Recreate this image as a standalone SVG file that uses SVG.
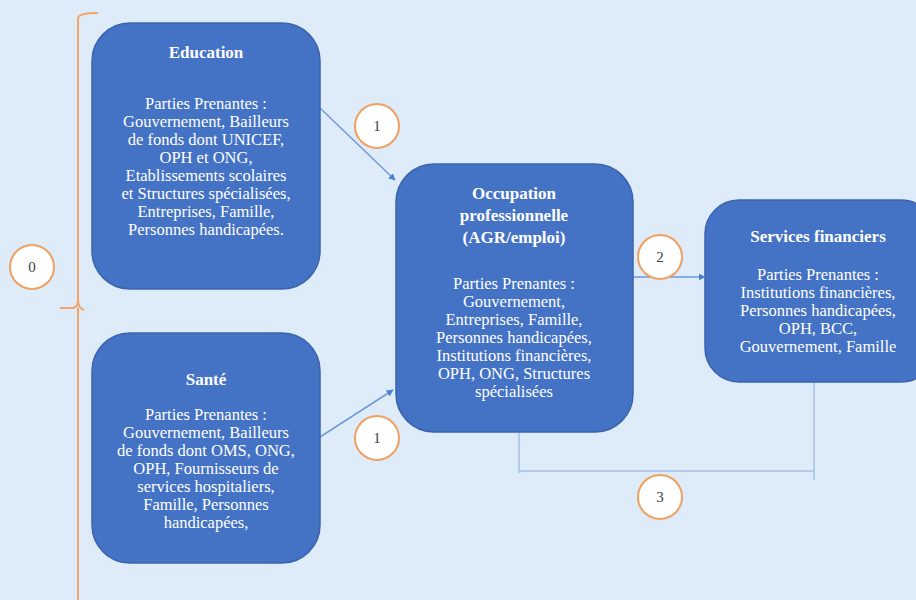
<svg xmlns="http://www.w3.org/2000/svg" width="916" height="600" viewBox="0 0 916 600">
<defs>
<marker id="ah" viewBox="0 0 10 10" refX="9" refY="5" markerWidth="7" markerHeight="7" orient="auto" markerUnits="userSpaceOnUse">
<path d="M0,0 L10,5 L0,10 z" fill="#4a7fd0"/>
</marker>
<style>
.box{fill:#4472c4;stroke:#3b64ad;stroke-width:1.5}
.t{font-family:"Liberation Serif","Times New Roman",serif;fill:#ffffff;text-anchor:middle;font-size:16.5px}
.tb{font-weight:bold;font-size:17px}
.c{fill:#ffffff;stroke:#f0a060;stroke-width:2}
.ct{font-family:"Liberation Serif","Times New Roman",serif;fill:#404040;text-anchor:middle;font-size:15px}
.arr{stroke:#6f9ad8;stroke-width:1.5;fill:none}
.ln{stroke:#b3cbea;stroke-width:2;fill:none}
.br{stroke:#f2a46a;stroke-width:2;fill:none}
</style>
</defs>
<rect width="916" height="600" fill="#deebf8"/>
<g id="connectors">
<line class="arr" x1="320" y1="108" x2="395" y2="180" marker-end="url(#ah)"/>
<line class="arr" x1="320" y1="437" x2="393" y2="390" marker-end="url(#ah)"/>
<line class="arr" x1="633" y1="277" x2="705" y2="277" marker-end="url(#ah)"/>
<polyline class="ln" points="519,432 519,473"/>
<polyline class="ln" points="519,471 814,471"/>
<polyline class="ln" points="814,382 814,480"/>
</g>
<g id="brace">
<path class="br" d="M98,13 Q79,13 78,18 L78,300 Q78,308 72,308 L60,308 M78,300 Q78,308 84,310 M78,308 L78,600"/>
</g>
<g id="education">
<rect class="box" x="92" y="23" width="228" height="266" rx="38"/>
<text class="t tb" x="206" y="58">Education</text>
<text class="t" x="206" y="109">Parties Prenantes :</text>
<text class="t" x="206" y="127">Gouvernement, Bailleurs</text>
<text class="t" x="206" y="145">de fonds dont UNICEF,</text>
<text class="t" x="206" y="163">OPH et ONG,</text>
<text class="t" x="206" y="181">Etablissements scolaires</text>
<text class="t" x="206" y="199">et Structures spécialisées,</text>
<text class="t" x="206" y="217">Entreprises, Famille,</text>
<text class="t" x="206" y="235">Personnes handicapées.</text>
</g>
<g id="sante">
<rect class="box" x="92" y="333" width="228" height="230" rx="38"/>
<text class="t tb" x="206" y="385">Santé</text>
<text class="t" x="206" y="420">Parties Prenantes :</text>
<text class="t" x="206" y="438">Gouvernement, Bailleurs</text>
<text class="t" x="206" y="456">de fonds dont OMS, ONG,</text>
<text class="t" x="206" y="474">OPH, Fournisseurs de</text>
<text class="t" x="206" y="492">services hospitaliers,</text>
<text class="t" x="206" y="510">Famille, Personnes</text>
<text class="t" x="206" y="528">handicapées,</text>
</g>
<g id="occupation">
<rect class="box" x="396" y="164" width="237" height="268" rx="38"/>
<text class="t tb" x="514" y="199">Occupation</text>
<text class="t tb" x="514" y="221">professionnelle</text>
<text class="t tb" x="514" y="243">(AGR/emploi)</text>
<text class="t" x="514" y="289">Parties Prenantes :</text>
<text class="t" x="514" y="307">Gouvernement,</text>
<text class="t" x="514" y="325">Entreprises, Famille,</text>
<text class="t" x="514" y="343">Personnes handicapées,</text>
<text class="t" x="514" y="361">Institutions financières,</text>
<text class="t" x="514" y="379">OPH, ONG, Structures</text>
<text class="t" x="514" y="397">spécialisées</text>
</g>
<g id="services">
<rect class="box" x="705" y="200" width="230" height="182" rx="34"/>
<text class="t tb" x="818" y="242">Services financiers</text>
<text class="t" x="818" y="280">Parties Prenantes :</text>
<text class="t" x="818" y="298">Institutions financières,</text>
<text class="t" x="818" y="316">Personnes handicapées,</text>
<text class="t" x="818" y="334">OPH, BCC,</text>
<text class="t" x="818" y="352">Gouvernement, Famille</text>
</g>
<g id="label0"><circle class="c" cx="32" cy="267" r="22"/><text class="ct" x="32" y="272">0</text></g>
<g id="label1a"><circle class="c" cx="377" cy="126" r="22"/><text class="ct" x="377" y="131">1</text></g>
<g id="label1b"><circle class="c" cx="377" cy="438" r="22"/><text class="ct" x="377" y="443">1</text></g>
<g id="label2"><circle class="c" cx="660" cy="257" r="22"/><text class="ct" x="660" y="262">2</text></g>
<g id="label3"><circle class="c" cx="660" cy="497" r="22"/><text class="ct" x="660" y="502">3</text></g>
</svg>
